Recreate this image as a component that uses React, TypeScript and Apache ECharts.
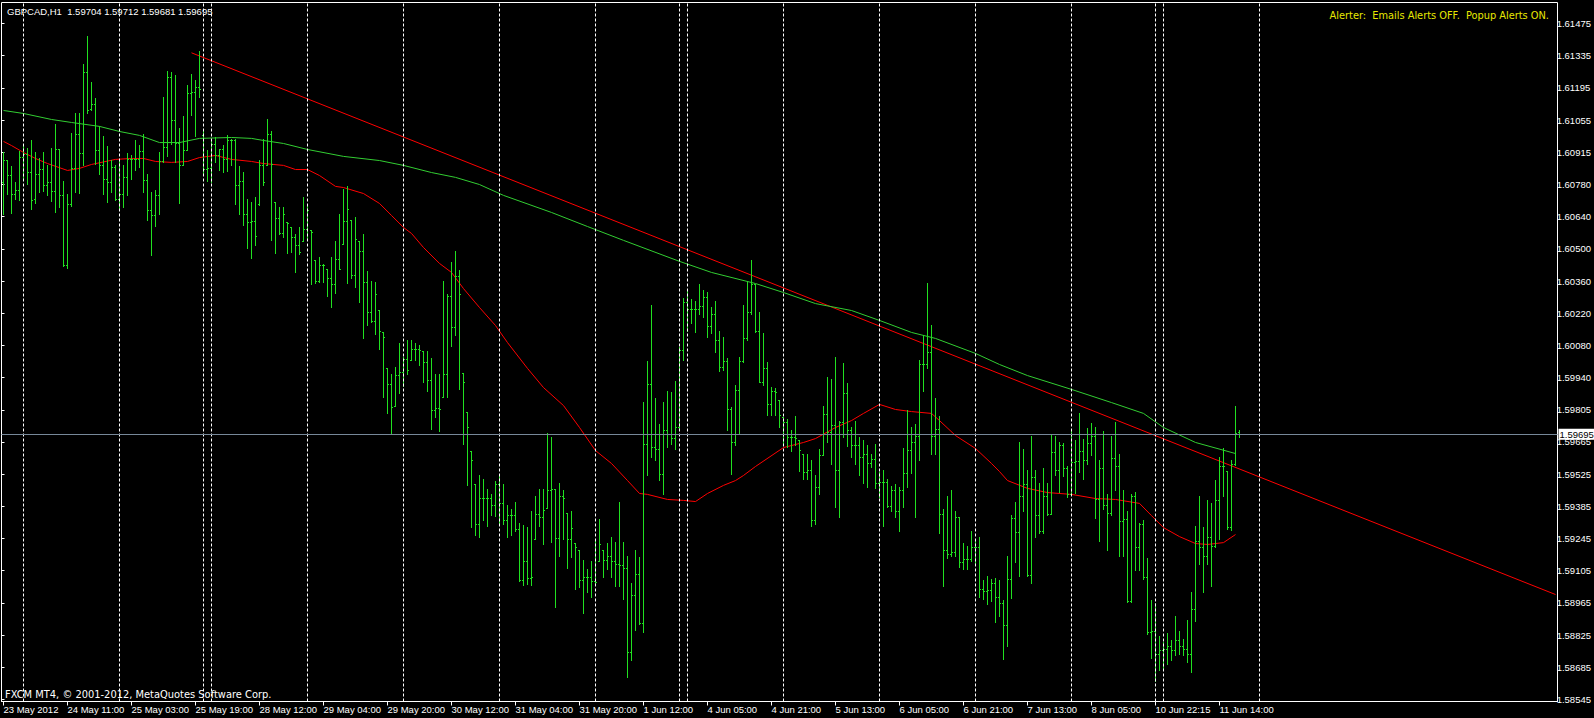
import React, { useEffect, useRef } from "react";
import * as echarts from "echarts";

const symbolTitle = "GBPCAD,H1  1.59704 1.59712 1.59681 1.59695";
const alerterText = "Alerter:  Emails Alerts OFF.  Popup Alerts ON.";
const copyrightText = "FXCM MT4, \u00a9 2001-2012, MetaQuotes Software Corp.";

// time labels, one every 16 hourly bars
const timeLabels = [
  "23 May 2012", "24 May 11:00", "25 May 03:00", "25 May 19:00", "28 May 12:00",
  "29 May 04:00", "29 May 20:00", "30 May 12:00", "31 May 04:00", "31 May 20:00",
  "1 Jun 12:00", "4 Jun 05:00", "4 Jun 21:00", "5 Jun 13:00", "6 Jun 05:00",
  "6 Jun 21:00", "7 Jun 13:00", "8 Jun 05:00", "10 Jun 22:15", "11 Jun 14:00",
];
const labelStep = 16;

// right price scale labels (bottom to top)
const priceLabels = [
  "1.58545", "1.58685", "1.58825", "1.58965", "1.59105", "1.59245", "1.59385", "1.59525",
  "1.59665", "1.59805", "1.59940", "1.60080", "1.60220", "1.60360", "1.60500", "1.60640",
  "1.60780", "1.60915", "1.61055", "1.61195", "1.61335", "1.61475",
];
const scaleBottom = 1.58545;
const scaleTop = 1.61475;

// bar slots on the time axis (chart shift area included)
const totalSlots = 389;

// day separators (bar index)
const separatorBars = [5, 29, 50, 52, 76, 100, 124, 148, 169, 171, 195, 219, 243, 267, 288, 290, 314];

const currentPrice = 1.59695;

// [open, high, low, close]
const ohlc: number[][] = [
  [1.60788, 1.60918, 1.60651, 1.60882], [1.60882, 1.60882, 1.60737, 1.60817], [1.60817, 1.60856, 1.60655, 1.60737], [1.60737, 1.60788, 1.60716, 1.60752],
  [1.60752, 1.60921, 1.60708, 1.60896], [1.60896, 1.60947, 1.60802, 1.60911], [1.60911, 1.60937, 1.60781, 1.60831], [1.60831, 1.60971, 1.60672, 1.60708],
  [1.60716, 1.60918, 1.60698, 1.60821], [1.60821, 1.60893, 1.60745, 1.60843], [1.60843, 1.60918, 1.60749, 1.60773], [1.60773, 1.60863, 1.60730, 1.60788],
  [1.60788, 1.60935, 1.60705, 1.60747], [1.60747, 1.61041, 1.60658, 1.60932], [1.60932, 1.60932, 1.60679, 1.60730], [1.60730, 1.60791, 1.60424, 1.60427],
  [1.60427, 1.60734, 1.60415, 1.60694], [1.60694, 1.60999, 1.60684, 1.60849], [1.60849, 1.61086, 1.60745, 1.60997], [1.60997, 1.61088, 1.60740, 1.60915],
  [1.60915, 1.61298, 1.60860, 1.61265], [1.61265, 1.61419, 1.61088, 1.61099], [1.61106, 1.61221, 1.61099, 1.61127], [1.61127, 1.61152, 1.60867, 1.60925],
  [1.60925, 1.61031, 1.60824, 1.60860], [1.60860, 1.60987, 1.60737, 1.60799], [1.60799, 1.60944, 1.60701, 1.60788], [1.60788, 1.60882, 1.60745, 1.60853],
  [1.60853, 1.60860, 1.60708, 1.60716], [1.60716, 1.60889, 1.60665, 1.60737], [1.60737, 1.60863, 1.60679, 1.60810], [1.60810, 1.60915, 1.60730, 1.60889],
  [1.60889, 1.60903, 1.60802, 1.60886], [1.60886, 1.60969, 1.60838, 1.60889], [1.60889, 1.60947, 1.60853, 1.60921], [1.60921, 1.60997, 1.60745, 1.60798],
  [1.60798, 1.60824, 1.60622, 1.60668], [1.60668, 1.60745, 1.60470, 1.60646], [1.60646, 1.60752, 1.60596, 1.60733], [1.60733, 1.60918, 1.60651, 1.60879],
  [1.60879, 1.61156, 1.60875, 1.60940], [1.60940, 1.61268, 1.60901, 1.61243], [1.61243, 1.61265, 1.60954, 1.61058], [1.61058, 1.61250, 1.60875, 1.60958],
  [1.60958, 1.61022, 1.60697, 1.60860], [1.60860, 1.61074, 1.60860, 1.60925], [1.60925, 1.61210, 1.60925, 1.61175], [1.61175, 1.61255, 1.61077, 1.61178],
  [1.61178, 1.61229, 1.60987, 1.61200], [1.61200, 1.61354, 1.61156, 1.61192], [1.60990, 1.61008, 1.60827, 1.60846], [1.60846, 1.60925, 1.60791, 1.60849],
  [1.60849, 1.60976, 1.60788, 1.60951], [1.60951, 1.60982, 1.60875, 1.60903], [1.60903, 1.60932, 1.60838, 1.60929], [1.60929, 1.60947, 1.60831, 1.60889],
  [1.60889, 1.60990, 1.60834, 1.60971], [1.60971, 1.60976, 1.60860, 1.60969], [1.60969, 1.60973, 1.60694, 1.60776], [1.60776, 1.60856, 1.60648, 1.60791],
  [1.60791, 1.60831, 1.60600, 1.60651], [1.60651, 1.60716, 1.60503, 1.60614], [1.60614, 1.60701, 1.60459, 1.60617], [1.60617, 1.60725, 1.60513, 1.60556],
  [1.60694, 1.60884, 1.60690, 1.60860], [1.60860, 1.60975, 1.60773, 1.60787], [1.60860, 1.61059, 1.60860, 1.60997], [1.60997, 1.61011, 1.60535, 1.60867],
  [1.60701, 1.60701, 1.60480, 1.60633], [1.60633, 1.60679, 1.60564, 1.60568], [1.60568, 1.60679, 1.60549, 1.60650], [1.60614, 1.60614, 1.60480, 1.60611],
  [1.60595, 1.60595, 1.60484, 1.60549], [1.60549, 1.60561, 1.60397, 1.60517], [1.60517, 1.60592, 1.60474, 1.60484], [1.60532, 1.60722, 1.60532, 1.60585],
  [1.60585, 1.60682, 1.60535, 1.60665], [1.60581, 1.60581, 1.60347, 1.60571], [1.60451, 1.60451, 1.60350, 1.60361], [1.60361, 1.60465, 1.60354, 1.60429],
  [1.60429, 1.60433, 1.60354, 1.60429], [1.60412, 1.60412, 1.60293, 1.60373], [1.60373, 1.60462, 1.60246, 1.60344], [1.60344, 1.60532, 1.60306, 1.60455],
  [1.60455, 1.60650, 1.60412, 1.60412], [1.60520, 1.60759, 1.60520, 1.60617], [1.60617, 1.60769, 1.60350, 1.60672], [1.60624, 1.60624, 1.60371, 1.60383],
  [1.60383, 1.60636, 1.60332, 1.60539], [1.60532, 1.60532, 1.60267, 1.60491], [1.60491, 1.60561, 1.60113, 1.60354], [1.60354, 1.60402, 1.60170, 1.60223],
  [1.60223, 1.60358, 1.60181, 1.60185], [1.60185, 1.60354, 1.60130, 1.60303], [1.60234, 1.60234, 1.60065, 1.60144], [1.60137, 1.60137, 1.59855, 1.60116],
  [1.59983, 1.59983, 1.59786, 1.59913], [1.59913, 1.59957, 1.59700, 1.59812], [1.59819, 1.59985, 1.59819, 1.59952], [1.59952, 1.60090, 1.59873, 1.59964],
  [1.59964, 1.60029, 1.59903, 1.60022], [1.60022, 1.60104, 1.59957, 1.59974], [1.60017, 1.60104, 1.60017, 1.60065], [1.60065, 1.60090, 1.60017, 1.60065],
  [1.60065, 1.60082, 1.59993, 1.60058], [1.60055, 1.60055, 1.59921, 1.60007], [1.60007, 1.60055, 1.59881, 1.59928], [1.59928, 1.60026, 1.59718, 1.59801],
  [1.59801, 1.59954, 1.59769, 1.59809], [1.59809, 1.59957, 1.59708, 1.59805], [1.59855, 1.60361, 1.59855, 1.59957], [1.59957, 1.60303, 1.59855, 1.60296],
  [1.60296, 1.60441, 1.60077, 1.60159], [1.60159, 1.60488, 1.60123, 1.60380], [1.60380, 1.60405, 1.59892, 1.60303], [1.59960, 1.59960, 1.59653, 1.59923],
  [1.59790, 1.59790, 1.59473, 1.59725], [1.59624, 1.59624, 1.59292, 1.59581], [1.59480, 1.59480, 1.59260, 1.59306], [1.59306, 1.59516, 1.59250, 1.59418],
  [1.59418, 1.59499, 1.59321, 1.59418], [1.59418, 1.59458, 1.59299, 1.59418], [1.59418, 1.59436, 1.59343, 1.59386], [1.59386, 1.59490, 1.59340, 1.59480],
  [1.59480, 1.59512, 1.59306, 1.59397], [1.59397, 1.59477, 1.59306, 1.59324], [1.59324, 1.59386, 1.59251, 1.59343], [1.59343, 1.59371, 1.59256, 1.59343],
  [1.59343, 1.59400, 1.59277, 1.59282], [1.59282, 1.59309, 1.59058, 1.59061], [1.59061, 1.59303, 1.59043, 1.59147], [1.59147, 1.59292, 1.59046, 1.59072],
  [1.59072, 1.59361, 1.59042, 1.59075], [1.59241, 1.59425, 1.59241, 1.59347], [1.59347, 1.59458, 1.59299, 1.59338], [1.59338, 1.59458, 1.59217, 1.59367],
  [1.59376, 1.59702, 1.59376, 1.59451], [1.59451, 1.59682, 1.59227, 1.59458], [1.59458, 1.59458, 1.58945, 1.59244], [1.59244, 1.59483, 1.59169, 1.59429],
  [1.59429, 1.59451, 1.59241, 1.59419], [1.59353, 1.59353, 1.59114, 1.59241], [1.59241, 1.59361, 1.59162, 1.59289], [1.59222, 1.59222, 1.59025, 1.59205],
  [1.59191, 1.59191, 1.59032, 1.59061], [1.59061, 1.59150, 1.58919, 1.59075], [1.59075, 1.59112, 1.59010, 1.59075], [1.59075, 1.59147, 1.58989, 1.59058],
  [1.59058, 1.59241, 1.59046, 1.59053], [1.59147, 1.59328, 1.59147, 1.59220], [1.59194, 1.59194, 1.59075, 1.59150], [1.59150, 1.59222, 1.59112, 1.59165],
  [1.59165, 1.59251, 1.59078, 1.59147], [1.59147, 1.59227, 1.59039, 1.59133], [1.59133, 1.59400, 1.59036, 1.59126], [1.59126, 1.59227, 1.58981, 1.59116],
  [1.59116, 1.59169, 1.58642, 1.58750], [1.58750, 1.59049, 1.58717, 1.58996], [1.58996, 1.59194, 1.58847, 1.59090], [1.59090, 1.59162, 1.58873, 1.58876],
  [1.58876, 1.59834, 1.58837, 1.59653], [1.59653, 1.60012, 1.59516, 1.59913], [1.59913, 1.60253, 1.59598, 1.59639], [1.59639, 1.59851, 1.59584, 1.59632],
  [1.59632, 1.59740, 1.59497, 1.59523], [1.59523, 1.59834, 1.59436, 1.59711], [1.59711, 1.59880, 1.59639, 1.59697], [1.59697, 1.59877, 1.59653, 1.59679],
  [1.59679, 1.59925, 1.59632, 1.59725], [1.59725, 1.60075, 1.59711, 1.60058], [1.60058, 1.60285, 1.60015, 1.60267], [1.60267, 1.60325, 1.60144, 1.60238],
  [1.60238, 1.60282, 1.60176, 1.60238], [1.60238, 1.60274, 1.60137, 1.60238], [1.60238, 1.60344, 1.60214, 1.60249], [1.60249, 1.60321, 1.60205, 1.60289],
  [1.60289, 1.60313, 1.60118, 1.60162], [1.60162, 1.60246, 1.60133, 1.60214], [1.60214, 1.60274, 1.60051, 1.60105], [1.60105, 1.60142, 1.59968, 1.59988],
  [1.59988, 1.60115, 1.59971, 1.60012], [1.60012, 1.60026, 1.59714, 1.59805], [1.59805, 1.59812, 1.59523, 1.59660], [1.59660, 1.59906, 1.59646, 1.59887],
  [1.59887, 1.60029, 1.59694, 1.60010], [1.60010, 1.60257, 1.60007, 1.60113], [1.60113, 1.60354, 1.60104, 1.60224], [1.60224, 1.60452, 1.60214, 1.60347],
  [1.60347, 1.60347, 1.60137, 1.60144], [1.60144, 1.60224, 1.59920, 1.59923], [1.59923, 1.60133, 1.59906, 1.59983], [1.59983, 1.60007, 1.59776, 1.59824],
  [1.59824, 1.59899, 1.59776, 1.59881], [1.59881, 1.59894, 1.59776, 1.59877], [1.59841, 1.59841, 1.59725, 1.59776], [1.59769, 1.59769, 1.59653, 1.59747],
  [1.59747, 1.59762, 1.59639, 1.59682], [1.59682, 1.59711, 1.59624, 1.59682], [1.59682, 1.59772, 1.59646, 1.59679], [1.59670, 1.59670, 1.59535, 1.59627],
  [1.59610, 1.59610, 1.59501, 1.59530], [1.59530, 1.59610, 1.59501, 1.59540], [1.59540, 1.59581, 1.59299, 1.59321], [1.59321, 1.59516, 1.59306, 1.59465],
  [1.59465, 1.59632, 1.59434, 1.59605], [1.59605, 1.59815, 1.59603, 1.59783], [1.59783, 1.59942, 1.59663, 1.59704], [1.59704, 1.59935, 1.59566, 1.59733],
  [1.59733, 1.60029, 1.59379, 1.59540], [1.59540, 1.59754, 1.59335, 1.59747], [1.59747, 1.60003, 1.59682, 1.59874], [1.59874, 1.59916, 1.59642, 1.59714],
  [1.59714, 1.59725, 1.59595, 1.59646], [1.59646, 1.59751, 1.59564, 1.59646], [1.59646, 1.59682, 1.59516, 1.59595], [1.59595, 1.59668, 1.59483, 1.59610],
  [1.59610, 1.59650, 1.59468, 1.59569], [1.59569, 1.59610, 1.59552, 1.59588], [1.59588, 1.59653, 1.59462, 1.59483], [1.59483, 1.59532, 1.59422, 1.59487],
  [1.59487, 1.59538, 1.59296, 1.59487], [1.59487, 1.59499, 1.59379, 1.59383], [1.59383, 1.59472, 1.59364, 1.59454], [1.59454, 1.59477, 1.59338, 1.59364],
  [1.59364, 1.59468, 1.59275, 1.59451], [1.59451, 1.59636, 1.59379, 1.59527], [1.59527, 1.59798, 1.59468, 1.59627], [1.59627, 1.59725, 1.59526, 1.59660],
  [1.59660, 1.59740, 1.59338, 1.59685], [1.59685, 1.60015, 1.59581, 1.60000], [1.60000, 1.60123, 1.59882, 1.59997], [1.59997, 1.60350, 1.59983, 1.60051],
  [1.60051, 1.60170, 1.59610, 1.59689], [1.59689, 1.59850, 1.59610, 1.59718], [1.59718, 1.59772, 1.59266, 1.59347], [1.59347, 1.59371, 1.59036, 1.59191],
  [1.59191, 1.59429, 1.59159, 1.59176], [1.59176, 1.59451, 1.59169, 1.59184], [1.59184, 1.59364, 1.59165, 1.59338], [1.59338, 1.59338, 1.59121, 1.59140],
  [1.59140, 1.59222, 1.59112, 1.59155], [1.59155, 1.59212, 1.59112, 1.59155], [1.59155, 1.59277, 1.59145, 1.59208], [1.59208, 1.59234, 1.59126, 1.59208],
  [1.59208, 1.59251, 1.58989, 1.59025], [1.59025, 1.59064, 1.58981, 1.59015], [1.59015, 1.59082, 1.58960, 1.59020], [1.59020, 1.59068, 1.58974, 1.59049],
  [1.59049, 1.59072, 1.58880, 1.58988], [1.58988, 1.59064, 1.58909, 1.58964], [1.58964, 1.58977, 1.58721, 1.58870], [1.58870, 1.59165, 1.58779, 1.59068],
  [1.59068, 1.59343, 1.58986, 1.59331], [1.59331, 1.59400, 1.59140, 1.59270], [1.59270, 1.59663, 1.59082, 1.59425], [1.59425, 1.59632, 1.59364, 1.59480],
  [1.59480, 1.59538, 1.59082, 1.59085], [1.59085, 1.59689, 1.59049, 1.59509], [1.59509, 1.59540, 1.59251, 1.59343], [1.59343, 1.59483, 1.59266, 1.59277],
  [1.59277, 1.59549, 1.59266, 1.59425], [1.59425, 1.59483, 1.59343, 1.59350], [1.59350, 1.59697, 1.59347, 1.59617], [1.59617, 1.59685, 1.59516, 1.59540],
  [1.59540, 1.59660, 1.59444, 1.59646], [1.59646, 1.59656, 1.59512, 1.59549], [1.59549, 1.59555, 1.59422, 1.59436], [1.59436, 1.59711, 1.59436, 1.59574],
  [1.59574, 1.59668, 1.59439, 1.59578], [1.59578, 1.59788, 1.59530, 1.59624], [1.59624, 1.59675, 1.59501, 1.59581], [1.59581, 1.59723, 1.59566, 1.59656],
  [1.59656, 1.59744, 1.59605, 1.59685], [1.59685, 1.59728, 1.59332, 1.59415], [1.59415, 1.59581, 1.59231, 1.59549], [1.59549, 1.59707, 1.59371, 1.59389],
  [1.59389, 1.59434, 1.59194, 1.59354], [1.59354, 1.59689, 1.59343, 1.59591], [1.59591, 1.59747, 1.59451, 1.59555], [1.59555, 1.59607, 1.59169, 1.59318],
  [1.59318, 1.59451, 1.59169, 1.59328], [1.59328, 1.59364, 1.58967, 1.58974], [1.58974, 1.59436, 1.58967, 1.59425], [1.59425, 1.59444, 1.59107, 1.59208],
  [1.59208, 1.59309, 1.59107, 1.59306], [1.59306, 1.59324, 1.59068, 1.59078], [1.59078, 1.59159, 1.58830, 1.58837], [1.58837, 1.58977, 1.58724, 1.58844],
  [1.58844, 1.58962, 1.58627, 1.58743], [1.58743, 1.58822, 1.58671, 1.58760], [1.58760, 1.58793, 1.58671, 1.58765], [1.58765, 1.58832, 1.58699, 1.58779],
  [1.58779, 1.58801, 1.58717, 1.58760], [1.58760, 1.58905, 1.58736, 1.58804], [1.58804, 1.58841, 1.58743, 1.58779], [1.58779, 1.58808, 1.58736, 1.58765],
  [1.58765, 1.58890, 1.58707, 1.58743], [1.58743, 1.59010, 1.58663, 1.58938], [1.58938, 1.59295, 1.58884, 1.59234], [1.59234, 1.59429, 1.59133, 1.59205],
  [1.59205, 1.59292, 1.59010, 1.59165], [1.59165, 1.59408, 1.59133, 1.59251], [1.59251, 1.59396, 1.59039, 1.59212], [1.59212, 1.59497, 1.59205, 1.59408],
  [1.59408, 1.59595, 1.59241, 1.59559], [1.59559, 1.59636, 1.59429, 1.59559], [1.59535, 1.59535, 1.59285, 1.59292], [1.59292, 1.59581, 1.59278, 1.59564],
  [1.59564, 1.59815, 1.59560, 1.59700], [1.59704, 1.59712, 1.59681, 1.59695],
];

// slow moving average (green), [bar index, price]
const slowMA: number[][] = [
  [0, 1.61098], [5, 1.61085], [12, 1.61059], [17, 1.61046], [24, 1.61029], [29, 1.61007], [34, 1.6099], [39, 1.60959],
  [44, 1.60959], [49, 1.60977], [57, 1.60981], [62, 1.60977], [65, 1.60968], [70, 1.60955], [76, 1.60929], [85, 1.60899],
  [94, 1.60881], [100, 1.6086], [107, 1.60829], [113, 1.60808], [119, 1.60777], [125, 1.6073], [137, 1.60656], [146, 1.60595],
  [155, 1.60535], [169, 1.60444], [177, 1.60396], [188, 1.60348], [195, 1.60309], [203, 1.60261], [212, 1.60231], [219, 1.60188],
  [227, 1.60136], [233, 1.6011], [243, 1.60045], [249, 1.59997], [256, 1.59949], [267, 1.59889], [277, 1.59832], [285, 1.59785],
  [290, 1.59724], [298, 1.59659], [308, 1.59611],
];

// fast moving average (red), [bar index, price]
const fastMA: number[][] = [
  [0, 1.60964], [2, 1.60946], [5, 1.60916], [8, 1.6089], [11, 1.60868], [16, 1.60838], [19, 1.60847], [22, 1.60864],
  [28, 1.60886], [32, 1.6089], [35, 1.6089], [38, 1.60877], [42, 1.60873], [46, 1.60877], [49, 1.60894], [53, 1.60903],
  [57, 1.60886], [62, 1.60877], [65, 1.60868], [70, 1.6086], [73, 1.60842], [76, 1.60842], [79, 1.60816], [83, 1.60769],
  [85, 1.60764], [90, 1.60738], [94, 1.60695], [97, 1.60643], [100, 1.60591], [102, 1.60565], [105, 1.60504], [109, 1.60435],
  [112, 1.60396], [115, 1.60326], [119, 1.60244], [123, 1.60166], [126, 1.60092], [131, 1.5998], [135, 1.59897], [140, 1.59819],
  [144, 1.59724], [148, 1.59624], [152, 1.59568], [156, 1.59494], [159, 1.59438], [161, 1.59434], [166, 1.59412], [170, 1.59408],
  [173, 1.59403], [176, 1.59438], [180, 1.59473], [183, 1.59494], [185, 1.59516], [188, 1.59555], [195, 1.59637], [200, 1.59659],
  [203, 1.59676], [208, 1.59724], [212, 1.59754], [215, 1.59785], [219, 1.59824], [223, 1.59802], [227, 1.59793], [232, 1.59785],
  [234, 1.59754], [238, 1.59689], [243, 1.59633], [247, 1.59568], [249, 1.59533], [251, 1.59494], [256, 1.5946], [261, 1.59442],
  [267, 1.59434], [273, 1.59416], [278, 1.59412], [284, 1.59395], [287, 1.59342], [290, 1.5929], [294, 1.59251], [298, 1.59221],
  [301, 1.59217], [305, 1.59225], [308, 1.5926],
];

// trend line (two anchor points)
const trendLine: number[][] = [[47, 1.61348], [388, 1.59]];

const FONT = '"Liberation Sans", Arial, sans-serif';
const WIDE_FONT = '"DejaVu Sans", Verdana, sans-serif';
const BAR_COLOR = "#20e020";

export default function App() {
  const ref = useRef<HTMLDivElement>(null);

  useEffect(() => {
    if (!ref.current) return;
    const chart = echarts.init(ref.current, undefined, { renderer: "svg" });

    const categories = Array.from({ length: totalSlots }, (_, i) => String(i));
    const pxPerPrice = 676 / (scaleTop - scaleBottom);
    const yMin = scaleBottom - 2 / pxPerPrice;
    const yMax = scaleTop + 21 / pxPerPrice;
    const showEvery = (idx: number) => idx % labelStep === 0 && idx / labelStep < timeLabels.length;

    const renderBar = (_params: any, api: any) => {
      const idx = api.value(0);
      const o = api.value(1), h = api.value(2), l = api.value(3), c = api.value(4);
      const ph = api.coord([idx, h]);
      const pl = api.coord([idx, l]);
      const po = api.coord([idx, o]);
      const pc = api.coord([idx, c]);
      const x = Math.floor(ph[0]);
      const yTop = Math.round(ph[1]);
      const yBot = Math.round(pl[1]);
      const style = { fill: BAR_COLOR };
      return {
        type: "group",
        children: [
          { type: "rect", shape: { x, y: yTop, width: 1, height: Math.max(1, yBot - yTop + 1) }, style },
          { type: "rect", shape: { x: x - 1, y: Math.round(po[1]), width: 1, height: 1 }, style },
          { type: "rect", shape: { x: x + 1, y: Math.round(pc[1]), width: 1, height: 1 }, style },
        ],
      };
    };

    const markData: any[] = separatorBars.map((b) => ({
      xAxis: String(b),
      lineStyle: { color: "#ffffff", type: [3, 2], width: 1 },
      label: { show: false },
    }));
    markData.push({
      yAxis: currentPrice,
      lineStyle: { color: "#778899", type: "solid", width: 1 },
      label: {
        show: true,
        position: "end",
        distance: 1,
        formatter: () => currentPrice.toFixed(5),
        color: "#000000",
        backgroundColor: "#ffffff",
        padding: [1, 2, 0, 1],
        fontSize: 9.5,
        fontFamily: FONT,
      },
    });

    chart.setOption({
      animation: false,
      backgroundColor: "#000000",
      grid: [
        {
          left: 1.5, right: 36.5, top: 2.5, bottom: 16.5,
          show: true, borderColor: "#ffffff", borderWidth: 1, backgroundColor: "#000000",
        },
        { left: 1.5, right: 36.5, top: 23.5, bottom: 18.5, show: false },
      ],
      xAxis: [
        {
          gridIndex: 0,
          type: "category",
          data: categories,
          boundaryGap: true,
          axisLine: { show: true, lineStyle: { color: "#ffffff", width: 1 } },
          axisTick: {
            show: true, alignWithLabel: true, interval: showEvery, length: 4,
            lineStyle: { color: "#ffffff" },
          },
          axisLabel: {
            show: true,
            interval: showEvery,
            formatter: (_v: string, idx: number) => timeLabels[idx / labelStep] ?? "",
            align: "left",
            color: "#ffffff",
            fontSize: 9.5,
            fontFamily: FONT,
            margin: 3,
          },
          splitLine: { show: false },
        },
        { gridIndex: 1, type: "value", min: 0, max: 1, show: false },
      ],
      yAxis: [
        { gridIndex: 0, type: "value", min: yMin, max: yMax, show: false, splitLine: { show: false } },
        {
          gridIndex: 1,
          type: "value",
          position: "right",
          min: 0,
          max: priceLabels.length - 1,
          interval: 1,
          axisLine: { show: false },
          axisTick: { show: true, length: 3, lineStyle: { color: "#ffffff" } },
          axisLabel: {
            color: "#ffffff",
            fontSize: 9.5,
            fontFamily: FONT,
            margin: 4,
            showMinLabel: true,
            showMaxLabel: true,
            formatter: (v: number) => priceLabels[Math.round(v)] ?? "",
          },
          splitLine: { show: false },
        },
      ],
      series: [
        {
          type: "line",
          name: "trend",
          xAxisIndex: 0, yAxisIndex: 0,
          data: trendLine,
          symbol: "none",
          lineStyle: { color: "#ff0000", width: 1 },
          z: 3,
          markLine: {
            silent: true,
            symbol: ["none", "none"],
            precision: 5,
            animation: false,
            label: { show: false },
            data: markData,
          },
        },
        {
          type: "line",
          name: "slowMA",
          xAxisIndex: 0, yAxisIndex: 0,
          data: slowMA,
          symbol: "none",
          lineStyle: { color: "#32cd32", width: 1 },
          z: 3,
        },
        {
          type: "line",
          name: "fastMA",
          xAxisIndex: 0, yAxisIndex: 0,
          data: fastMA,
          symbol: "none",
          lineStyle: { color: "#ff0000", width: 1 },
          z: 3,
        },
        {
          type: "custom",
          name: "bars",
          xAxisIndex: 0, yAxisIndex: 0,
          data: ohlc.map((b, i) => [i, b[0], b[1], b[2], b[3]]),
          encode: { x: 0, y: [1, 2, 3, 4] },
          renderItem: renderBar,
          z: 4,
        },
      ],
      graphic: [
        {
          type: "text", x: 7, y: 11,
          style: { text: symbolTitle, fill: "#ffffff", fontSize: 9.5, fontFamily: FONT, align: "left", verticalAlign: "middle" },
          z: 10,
        },
        {
          type: "text", x: 1549, y: 15,
          style: { text: alerterText, fill: "#e8e800", fontSize: 9.8, fontFamily: WIDE_FONT, align: "right", verticalAlign: "middle" },
          z: 10,
        },
        {
          type: "text", x: 5, y: 694,
          style: { text: copyrightText, fill: "#ffffff", fontSize: 9.9, fontFamily: WIDE_FONT, align: "left", verticalAlign: "middle" },
          z: 10,
        },
      ],
    });

    return () => chart.dispose();
  }, []);

  return (
    <div
      ref={ref}
      style={{ position: "fixed", left: 0, top: 0, width: 1594, height: 718, background: "#000" }}
    />
  );
}
